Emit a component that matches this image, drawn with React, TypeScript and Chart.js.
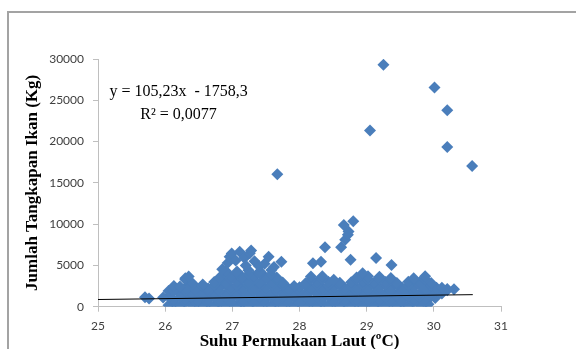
import React, { useEffect, useRef } from 'react';
import { Chart, registerables } from 'chart.js';

Chart.register(...registerables);

// ---- axis ticks ----
const xTickValues = [25, 26, 27, 28, 29, 30, 31];
const yTickValues = [0, 5000, 10000, 15000, 20000, 25000, 30000];

// ---- observations: sea-surface temperature (°C) vs catch (kg), read band by band ----
const band0Sst = [26.05, 26.22, 26.39, 26.56, 26.73, 26.90, 27.07, 27.24, 27.41, 27.58, 27.75, 27.92,
  28.09, 28.26, 28.43, 28.60, 28.77, 28.94, 29.11, 29.28, 29.45, 29.62, 29.79, 29.92];
const band0Catch = [180, 120, 260, 150, 90, 210, 140, 110, 230, 160, 200, 120,
  250, 140, 180, 100, 220, 150, 130, 240, 170, 110, 260, 300];

const band1Sst = [26.13, 26.30, 26.47, 26.64, 26.81, 26.98, 27.15, 27.32, 27.49, 27.66, 27.83,
  28.00, 28.17, 28.34, 28.51, 28.68, 28.85, 29.02, 29.19, 29.36, 29.53, 29.70, 29.87];
const band1Catch = [470, 520, 450, 500, 480, 530, 460, 510, 490, 470, 520,
  480, 500, 450, 510, 490, 470, 530, 480, 500, 460, 520, 490];

const band2Sst = [26.13, 26.30, 26.47, 26.64, 26.81, 26.98, 27.15, 27.32, 27.49, 27.66, 27.83, 28.00,
  28.17, 28.34, 28.51, 28.68, 28.85, 29.02, 29.19, 29.36, 29.53, 29.70, 29.87, 30.02];
const band2Catch = [820, 900, 760, 880, 840, 930, 790, 860, 910, 770, 850, 880,
  800, 920, 840, 790, 870, 900, 820, 860, 780, 910, 850, 1050];

const band3Sst = [26.05, 26.22, 26.39, 26.56, 26.73, 26.90, 27.07, 27.24, 27.41, 27.58, 27.75, 27.92,
  28.09, 28.26, 28.43, 28.60, 28.77, 28.94, 29.11, 29.28, 29.45, 29.62, 29.79, 29.96];
const band3Catch = [1200, 1180, 1220, 1190, 1210, 1170, 1230, 1200, 1180, 1220, 1190, 1210,
  1200, 1170, 1230, 1190, 1210, 1180, 1220, 1200, 1190, 1210, 1180, 1250];

const band4Sst = [26.05, 26.22, 26.39, 26.56, 26.73, 26.90, 27.07, 27.24, 27.41, 27.58, 27.75, 27.92,
  28.09, 28.26, 28.43, 28.60, 28.77, 28.94, 29.11, 29.28, 29.45, 29.62, 29.79, 29.96, 30.12];
const band4Catch = [1900, 1560, 1620, 1480, 1590, 1540, 1610, 1470, 1580, 1530, 1600, 1490,
  1570, 1620, 1510, 1560, 1480, 1600, 1540, 1590, 1500, 1620, 1550, 1580, 1600];

const band5Sst = [26.13, 26.30, 26.47, 26.64, 26.81, 26.98, 27.15, 27.32, 27.49, 27.66, 27.83, 28.00,
  28.17, 28.34, 28.51, 28.68, 28.85, 29.02, 29.19, 29.36, 29.53, 29.70, 29.87, 30.04, 30.20];
const band5Catch = [1900, 1920, 1880, 1910, 1890, 1930, 1870, 1900, 1920, 1880, 1910, 1890,
  1900, 1930, 1870, 1910, 1890, 1920, 1880, 1900, 1930, 1870, 1910, 1950, 2000];

const band6Sst = [26.13, 26.30, 26.47, 26.64, 26.81, 26.98, 27.15, 27.32, 27.49, 27.66, 27.83, 28.00,
  28.17, 28.34, 28.51, 28.68, 28.85, 29.02, 29.19, 29.36, 29.53, 29.70, 29.87, 30.04, 30.20, 30.30];
const band6Catch = [2500, 2250, 2300, 2200, 2350, 2280, 2220, 2330, 2260, 2310, 2240, 2350,
  2200, 2290, 2340, 2230, 2300, 2260, 2320, 2210, 2280, 2350, 2240, 2300, 2150, 2100];

const band7Sst = [26.22, 26.39, 26.56, 26.73, 26.90, 27.07, 27.24, 27.41, 27.58, 27.75, 27.92, 28.09,
  28.26, 28.43, 28.60, 28.77, 28.94, 29.11, 29.28, 29.45, 29.62, 29.79, 29.96, 30.12];
const band7Catch = [2450, 2620, 2500, 2600, 2640, 2580, 2610, 2570, 2630, 2590, 2500, 2600,
  2620, 2580, 2610, 2570, 2640, 2590, 2600, 2620, 2580, 2610, 2590, 2300];

const band8Sst = [26.39, 26.56, 26.73, 26.90, 27.07, 27.24, 27.41, 27.58, 27.75, 28.09, 28.26,
  28.43, 28.60, 28.77, 28.94, 29.11, 29.28, 29.45, 29.62, 29.79, 29.96];
const band8Catch = [2950, 2700, 3000, 2900, 3050, 2950, 2880, 3000, 2920, 2850, 2980,
  3020, 2900, 2960, 3040, 2930, 2990, 2880, 3010, 2950, 2870];

const band9Sst = [26.30, 26.81, 26.98, 27.15, 27.32, 27.49, 27.66, 28.17, 28.34, 28.51, 28.85,
  29.02, 29.19, 29.36, 29.70, 29.87];
const band9Catch = [3300, 3320, 3280, 3310, 3290, 3330, 3300, 3280, 3310, 3270, 3300,
  3320, 3290, 3250, 3300, 3310];

const band10Sst = [26.30, 26.81, 26.98, 27.15, 27.32, 27.49, 27.66, 28.17, 28.34, 28.85, 29.02,
  29.19, 29.36, 29.70, 29.87];
const band10Catch = [3450, 3550, 3650, 3600, 3700, 3620, 3550, 3650, 3700, 3550, 3700,
  3620, 3480, 3450, 3680];

const band11Sst = [26.90, 27.07, 27.24, 27.41, 27.58, 26.90, 27.07, 27.24, 27.41, 27.58, 28.94];
const band11Catch = [3950, 3980, 3920, 3960, 3940, 4350, 4250, 4400, 4300, 4450, 4050];

const scatteredSst = [25.70, 25.76, 25.97, 26.35, 26.85, 26.93, 26.96, 26.99, 27.05, 27.11, 27.18,
  27.20, 27.26, 27.28, 27.33, 27.40, 27.48, 27.54, 27.62, 27.73, 28.20, 28.32, 28.38, 28.62, 28.66,
  28.68, 28.72, 28.73, 28.76, 28.80, 29.14, 29.37];
const scatteredCatch = [1150, 1000, 1100, 3650, 4550, 5300, 6050, 6450, 5600, 6650, 5900,
  5000, 6460, 6800, 5500, 4900, 5200, 6050, 4800, 5450, 5250, 5450, 7200, 7200, 9900,
  8100, 8700, 9100, 5700, 10350, 5900, 5050];

const outlierSst = [29.25, 30.01, 30.2, 29.05, 30.2, 30.57, 27.67];
const outlierCatch = [29300, 26550, 23800, 21350, 19350, 17050, 16050];

// linear trendline y = 105,23x - 1758,3 (end points)
const trendSst = [25, 30.58];
const trendCatch = [872, 1460];

const equationLines = ['y = 105,23x  - 1758,3', 'R\u00B2 = 0,0077'];
const equationAnchor = [26.2, 26000];
const xTitle = 'Suhu Permukaan Laut (\u00BAC)';
const yTitle = 'Jumlah Tangkapan Ikan (Kg)';

const W = 576;
const H = 360;
const AREA = { left: 98, right: 501, top: 59, bottom: 306.7 };
const markerColor = '#4A7EBB';
const axisColor = '#bfbfbf';
const tickFont = { family: 'Lato', size: 12 };

const sstBands = [band0Sst, band1Sst, band2Sst, band3Sst, band4Sst, band5Sst, band6Sst, band7Sst,
  band8Sst, band9Sst, band10Sst, band11Sst, scatteredSst, outlierSst];
const catchBands = [band0Catch, band1Catch, band2Catch, band3Catch, band4Catch, band5Catch, band6Catch,
  band7Catch, band8Catch, band9Catch, band10Catch, band11Catch, scatteredCatch, outlierCatch];

const equationPlugin = {
  id: 'equation',
  afterDatasetsDraw(chart: any) {
    const { ctx, scales } = chart;
    const x = scales.x.getPixelForValue(equationAnchor[0]);
    const y = scales.y.getPixelForValue(equationAnchor[1]);
    ctx.save();
    ctx.font = '16px "Liberation Serif"';
    ctx.fillStyle = '#000';
    ctx.textAlign = 'center';
    ctx.textBaseline = 'middle';
    equationLines.forEach((t, i) => ctx.fillText(t, x, y + i * 23));
    ctx.restore();
  },
};

export default function App() {
  const ref = useRef<HTMLCanvasElement | null>(null);

  useEffect(() => {
    if (!ref.current) return;
    const points: { x: number; y: number }[] = [];
    sstBands.forEach((xs, b) => xs.forEach((v, i) => points.push({ x: v, y: catchBands[b][i] })));
    const trend = trendSst.map((v, i) => ({ x: v, y: trendCatch[i] }));

    const chart = new Chart(ref.current, {
      type: 'scatter',
      data: {
        datasets: [
          {
            type: 'line',
            data: trend,
            borderColor: '#000',
            borderWidth: 1,
            pointRadius: 0,
            showLine: true,
            fill: false,
            order: 0,
          } as any,
          {
            data: points,
            pointStyle: 'rectRot',
            pointRadius: 6,
            backgroundColor: markerColor,
            borderColor: markerColor,
            borderWidth: 0,
            order: 1,
          },
        ],
      },
      options: {
        responsive: false,
        animation: false,
        devicePixelRatio: 1,
        layout: { padding: { left: 0, right: W - AREA.right, top: AREA.top, bottom: 0 } },
        plugins: { legend: { display: false }, tooltip: { enabled: false } },
        scales: {
          x: {
            type: 'linear',
            min: 25,
            max: 31,
            afterBuildTicks: (s: any) => { s.ticks = xTickValues.map((v) => ({ value: v })); },
            afterFit: (s: any) => { s.height = H - AREA.bottom; },
            ticks: { font: tickFont, color: '#404040', padding: 7, callback: (v: any) => String(v) },
            grid: { drawOnChartArea: false, drawTicks: true, tickLength: 5, color: axisColor },
            border: { display: true, color: axisColor, width: 1 },
            title: {
              display: true,
              text: xTitle,
              color: '#000',
              font: { family: 'Liberation Serif', size: 17, weight: 'bold' },
              padding: { top: 0, bottom: 7.8 },
            },
          },
          y: {
            type: 'linear',
            min: 0,
            max: 30000,
            afterBuildTicks: (s: any) => { s.ticks = yTickValues.map((v) => ({ value: v })); },
            afterFit: (s: any) => { s.width = AREA.left; },
            ticks: { font: tickFont, color: '#404040', padding: 9, callback: (v: any) => String(v) },
            grid: { drawOnChartArea: false, drawTicks: true, tickLength: 5, color: axisColor },
            border: { display: true, color: axisColor, width: 1 },
            title: {
              display: true,
              text: yTitle,
              color: '#000',
              font: { family: 'Liberation Serif', size: 17, weight: 'bold' },
              padding: { top: 22.8, bottom: 0 },
            },
          },
        },
      },
      plugins: [equationPlugin],
    });
    return () => chart.destroy();
  }, []);

  return (
    <div style={{ position: 'fixed', left: 0, top: 0, width: 576, height: 349, overflow: 'hidden', background: '#fff' }}>
      <div style={{ position: 'absolute', left: 7, top: 11, width: 620, height: 400, borderLeft: '2px solid #a3a3a3', borderTop: '2px solid #a3a3a3', boxSizing: 'border-box' }} />
      <canvas ref={ref} width={W} height={H} style={{ position: 'absolute', left: 0, top: 0, display: 'block' }} />
    </div>
  );
}
